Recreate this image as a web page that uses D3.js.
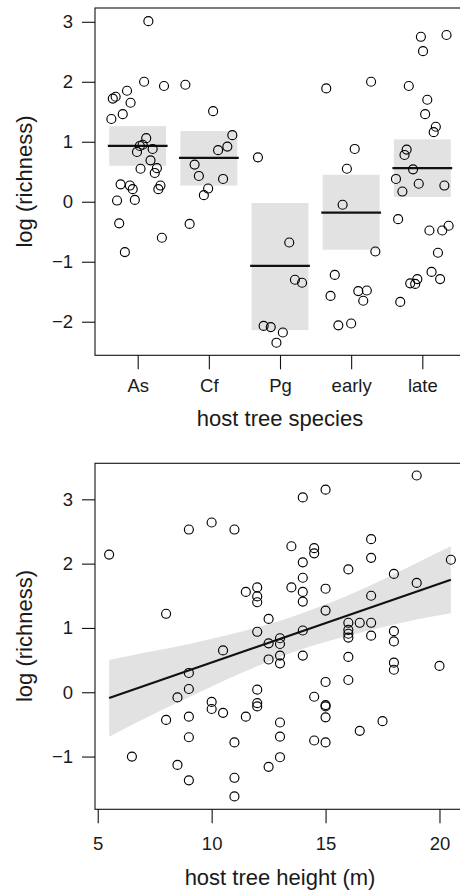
<!DOCTYPE html>
<html>
<head>
<meta charset="utf-8">
<script src="https://cdn.jsdelivr.net/npm/d3@7"></script>
<style>
  body { margin: 0; background: #fff; }
  svg { display: block; font-family: "Liberation Sans", Arial, sans-serif; }
</style>
</head>
<body>
<svg id="chart" width="460" height="892"></svg>
<script>
// ---- data: top panel (richness by host tree species) ----
const species = ["As", "Cf", "Pg", "early", "late"];
const speciesMean  = [0.93, 0.73, -1.07, -0.18, 0.56];
const speciesLower = [0.60, 0.27, -2.14, -0.80, 0.08];
const speciesUpper = [1.26, 1.18, -0.02, 0.45, 1.04];

// log richness per tree, and its horizontal jitter (in category units)
const asRich = [3.01, 2.0, 1.93, 1.85, 1.75, 1.72, 1.65, 1.46, 1.38, 1.06, 0.95, 0.93, 0.88, 0.83,
                0.69, 0.55, 0.56, 0.48, 0.29, 0.27, 0.21, 0.27, 0.21, 0.02, 0.03, -0.36, -0.84, -0.60];
const asJit  = [0.15, 0.09, 0.37, -0.15, -0.31, -0.35, -0.10, -0.21, -0.37, 0.12, 0.07, 0.03, 0.21, -0.01,
                0.18, 0.04, 0.27, 0.24, -0.24, -0.11, -0.07, 0.32, 0.29, -0.29, -0.04, -0.26, -0.18, 0.34];
const cfRich = [1.95, 1.51, 1.11, 0.92, 0.86, 0.62, 0.43, 0.38, 0.22, 0.11, -0.37];
const cfJit  = [-0.33, 0.06, 0.33, 0.26, 0.13, -0.20, -0.14, 0.20, -0.01, -0.07, -0.27];
const pgRich = [0.74, -0.68, -1.30, -1.35, -2.07, -2.09, -2.18, -2.35];
const pgJit  = [-0.31, 0.13, 0.21, 0.31, -0.23, -0.13, 0.04, -0.05];
const earlyRich = [1.89, 2.0, 0.88, 0.55, -0.05, -0.83, -1.22, -1.57, -1.49, -1.48, -1.65, -2.06, -2.03];
const earlyJit  = [-0.35, 0.28, 0.05, -0.06, -0.12, 0.34, -0.23, -0.29, 0.10, 0.22, 0.17, -0.18, 0.0];
const lateRich = [2.75, 2.78, 2.51, 1.93, 1.70, 1.46, 1.25, 1.16, 0.87, 0.78, 0.54, 0.38, 0.30, 0.27,
                  0.17, -0.29, -0.48, -0.48, -0.40, -0.85, -1.17, -1.29, -1.36, -1.37, -1.29, -1.67];
const lateJit  = [-0.02, 0.34, 0.01, -0.19, 0.07, 0.04, 0.19, 0.16, -0.22, -0.25, -0.13, -0.37, -0.05, 0.31,
                  -0.28, -0.34, 0.10, 0.28, 0.37, 0.22, 0.13, 0.25, -0.17, -0.10, -0.07, -0.31];

const yTicksTop = [-2, -1, 0, 1, 2, 3];

// ---- data: bottom panel (richness vs host tree height) ----
const treeHeight = [5.5, 6.5, 8, 8, 8.5, 8.5, 9, 9, 9, 9, 9, 9, 10, 10, 10, 10.5, 10.5,
                    11, 11, 11, 11, 11.5, 11.5, 12, 12, 12, 12, 12, 12, 12, 12.5, 12.5, 12.5, 12.5,
                    13, 13, 13, 13, 13, 13, 13, 13.5, 13.5, 14, 14, 14, 14, 14, 14, 14,
                    14.5, 14.5, 14.5, 14.5, 15, 15, 15, 15, 15, 15, 15, 15,
                    16, 16, 16, 16, 16, 16, 16, 16.5, 16.5, 17, 17, 17, 17, 17, 17.5,
                    18, 18, 18, 18, 18, 19, 19, 20, 20.5];
const treeRichness = [2.14, -1.0, 1.22, -0.43, -0.08, -1.13, 2.53, 0.30, 0.05, -0.38, -0.70, -1.37,
                      2.64, -0.15, -0.26, 0.65, -0.32, 2.53, -0.78, -1.33, -1.62, 1.56, -0.38,
                      1.63, 1.49, 1.40, 0.94, 0.04, -0.17, -0.22, 1.14, 0.76, 0.51, -1.16,
                      0.84, 0.75, 0.57, 0.45, -0.47, -0.69, -1.01, 2.27, 1.63,
                      3.03, 2.02, 1.78, 1.56, 1.41, 0.96, 0.57, 2.24, 2.16, -0.07, -0.75,
                      3.15, 1.61, 1.27, 0.16, -0.20, -0.22, -0.39, -0.78,
                      1.91, 1.08, 0.97, 0.91, 0.85, 0.55, 0.19, 1.08, -0.60,
                      2.38, 2.09, 1.50, 1.08, 0.88, -0.45, 1.84, 0.95, 0.79, 0.46, 0.35,
                      3.37, 1.70, 0.41, 2.06];

// fitted line and its confidence band
const fitX = [5.5, 20.5];
const fitY = [-0.09, 1.75];
const bandX  = [5.5, 7, 8.5, 10, 11.5, 13, 14.5, 16, 17.5, 19, 20.5];
const bandLo = [-0.69, -0.42, -0.16, 0.09, 0.33, 0.55, 0.73, 0.88, 1.01, 1.13, 1.23];
const bandHi = [0.50, 0.61, 0.71, 0.83, 0.96, 1.11, 1.30, 1.51, 1.75, 2.01, 2.27];

const xTicksBottom = [5, 10, 15, 20];
const yTicksBottom = [-1, 0, 1, 2, 3];

// ---- layout ----
const svg = d3.select("#chart");
const plotLeft = 95, plotRight = 465;
const tickFont = "18.5px", titleFont = "22px", ink = "#1a1a1a";
const intFmt = d3.format("d");

const rich = [asRich, cfRich, pgRich, earlyRich, lateRich];
const jit = [asJit, cfJit, pgJit, earlyJit, lateJit];
const speciesPoints = rich.flatMap((vals, i) =>
    vals.map((v, j) => ({cat: i + 1, jit: jit[i][j], value: v})));

/*
** helpers shared by both panels
*/
const drawFrame = (g, top, bottom) => {
    g.append("rect")
        .attr("x", plotLeft)
        .attr("y", top)
        .attr("width", plotRight - plotLeft)
        .attr("height", bottom - top)
        .attr("fill", "none")
        .attr("stroke", "#111")
        .attr("stroke-width", 1.1);
};

const styleAxis = (axisG) => {
    axisG.select(".domain").remove();
    axisG.selectAll(".tick line").attr("stroke", "#111").attr("stroke-width", 1.1);
    axisG.selectAll(".tick text").attr("fill", ink).style("font-size", tickFont);
};

const yTitle = (g, cy, label) => {
    g.append("text")
        .attr("transform", `translate(32,${cy}) rotate(-90)`)
        .attr("text-anchor", "middle")
        .attr("fill", ink)
        .style("font-size", titleFont)
        .text(label);
};

const drawPoints = (g, data, cx, cy) => {
    g.selectAll(".pt")
        .data(data)
        .enter()
            .append("circle")
            .attr("class", "pt")
            .attr("cx", cx)
            .attr("cy", cy)
            .attr("r", 4.5)
            .attr("fill", "none")
            .attr("stroke", "#000")
            .attr("stroke-width", 1.15);
};

/*
** Top panel: jittered points with mean and CI box per species
*/
const topTop = 8, topBottom = 355.3;
const xCat = d3.scaleLinear().domain([0.4, 5.6]).range([plotLeft, plotRight]);
const yTop = d3.scaleLinear().domain([-2.56, 3.23]).range([topBottom, topTop]);

const topG = svg.append("g").attr("class", "top-panel");

topG.selectAll(".ci-box")
    .data(species)
    .enter()
        .append("rect")
        .attr("class", "ci-box")
        .attr("x", (d, i) => xCat(i + 1 - 0.4))
        .attr("width", xCat(1.4) - xCat(0.6))
        .attr("y", (d, i) => yTop(speciesUpper[i]))
        .attr("height", (d, i) => yTop(speciesLower[i]) - yTop(speciesUpper[i]))
        .attr("fill", "#e2e2e2");

topG.selectAll(".mean-line")
    .data(species)
    .enter()
        .append("line")
        .attr("class", "mean-line")
        .attr("x1", (d, i) => xCat(i + 1 - 0.42))
        .attr("x2", (d, i) => xCat(i + 1 + 0.42))
        .attr("y1", (d, i) => yTop(speciesMean[i]))
        .attr("y2", (d, i) => yTop(speciesMean[i]))
        .attr("stroke", "#111")
        .attr("stroke-width", 2.3);

drawPoints(topG, speciesPoints, d => xCat(d.cat + d.jit), d => yTop(d.value));

drawFrame(topG, topTop, topBottom);

topG.append("g")
    .attr("transform", `translate(${plotLeft},0)`)
    .call(d3.axisLeft(yTop).tickValues(yTicksTop).tickFormat(intFmt).tickSize(13).tickPadding(9))
    .call(styleAxis);

topG.append("g")
    .attr("transform", `translate(0,${topBottom})`)
    .call(d3.axisBottom(xCat).tickValues([1, 2, 3, 4, 5])
        .tickFormat(d => species[d - 1]).tickSize(14).tickPadding(10))
    .call(styleAxis);

topG.append("text")
    .attr("x", 280)
    .attr("y", 426)
    .attr("text-anchor", "middle")
    .attr("fill", ink)
    .style("font-size", titleFont)
    .text("host tree species");

yTitle(topG, 181.5, "log (richness)");

/*
** Bottom panel: richness against tree height with fitted line
*/
const botTop = 463.3, botBottom = 809.3;
const xH = d3.scaleLinear().domain([4.88, 21.12]).range([plotLeft, plotRight]);
const yB = d3.scaleLinear().domain([-1.82, 3.56]).range([botBottom, botTop]);

const botG = svg.append("g").attr("class", "bottom-panel");

const band = d3.area()
    .x((d, i) => xH(bandX[i]))
    .y0((d, i) => yB(bandLo[i]))
    .y1((d, i) => yB(bandHi[i]))
    .curve(d3.curveMonotoneX);

botG.append("path")
    .attr("d", band(bandX))
    .attr("fill", "#e2e2e2");

drawPoints(botG, treeHeight, d => xH(d), (d, i) => yB(treeRichness[i]));

botG.append("path")
    .attr("d", d3.line().x(d => xH(d)).y((d, i) => yB(fitY[i]))(fitX))
    .attr("fill", "none")
    .attr("stroke", "#111")
    .attr("stroke-width", 2.2);

drawFrame(botG, botTop, botBottom);

botG.append("g")
    .attr("transform", `translate(${plotLeft},0)`)
    .call(d3.axisLeft(yB).tickValues(yTicksBottom).tickFormat(intFmt).tickSize(13).tickPadding(9))
    .call(styleAxis);

botG.append("g")
    .attr("transform", `translate(0,${botBottom})`)
    .call(d3.axisBottom(xH).tickValues(xTicksBottom).tickSize(14).tickPadding(14))
    .call(styleAxis);

botG.append("text")
    .attr("x", 280)
    .attr("y", 885)
    .attr("text-anchor", "middle")
    .attr("fill", ink)
    .style("font-size", titleFont)
    .text("host tree height (m)");

yTitle(botG, 636, "log (richness)");
</script>
</body>
</html>
